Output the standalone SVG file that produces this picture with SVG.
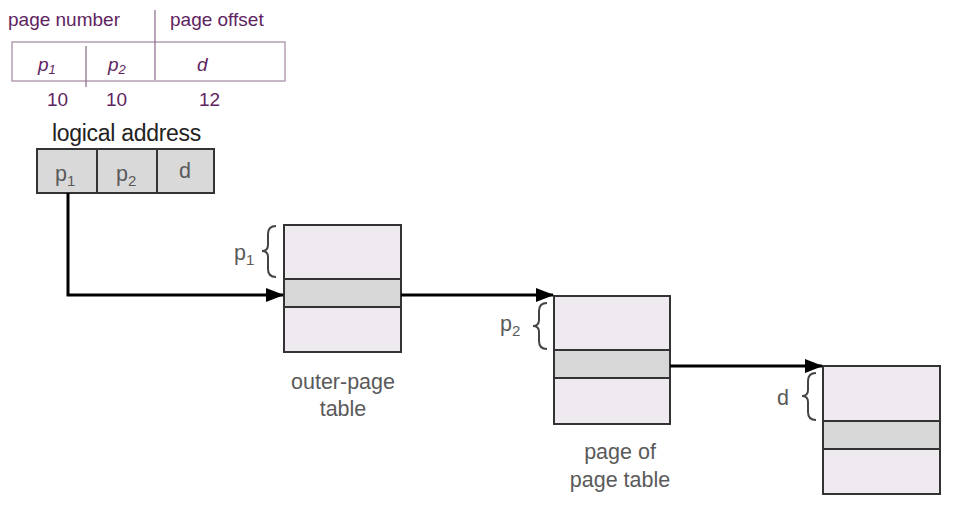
<svg xmlns="http://www.w3.org/2000/svg" width="955" height="505" viewBox="0 0 955 505">
<style>
.pur{font-family:"Liberation Sans",Arial,sans-serif;font-size:19px;fill:#5e2461}
.it{font-style:italic}
.lbl{font-family:"Liberation Sans",Arial,sans-serif;font-size:21.5px;fill:#5a5a5a}
.la{font-family:"Liberation Sans",Arial,sans-serif;font-size:23px;fill:#222;letter-spacing:-0.3px}
.cell{fill:#d9d9d9;stroke:#333;stroke-width:2}
.light{fill:#efeaf0;stroke:#333;stroke-width:2}
.mid{fill:#d7d7d7;stroke:#333;stroke-width:2}
.brace{fill:none;stroke:#444;stroke-width:2}
.conn{fill:none;stroke:#000;stroke-width:3}
</style>
<defs>
<marker id="ah" markerWidth="18" markerHeight="14" refX="17" refY="7" orient="auto" markerUnits="userSpaceOnUse">
<path d="M0,0 L18,7 L0,14 Z" fill="#000"/>
</marker>
</defs>
<rect width="955" height="505" fill="#fff"/>

<g id="format">
<rect x="12" y="42" width="273" height="39" fill="none" stroke="#a890a8" stroke-width="1.3"/>
<line x1="86" y1="46" x2="86" y2="87" stroke="#8a6a8a" stroke-width="1.2"/>
<line x1="155" y1="10" x2="155" y2="80" stroke="#8a6a8a" stroke-width="1.2"/>
<text class="pur" x="8" y="26">page number</text>
<text class="pur" x="170" y="26">page offset</text>
<text class="pur it" x="38" y="71">p<tspan font-size="13" dy="3">1</tspan></text>
<text class="pur it" x="108" y="71">p<tspan font-size="13" dy="3">2</tspan></text>
<text class="pur it" x="197" y="71">d</text>
<text class="pur" x="47" y="106">10</text>
<text class="pur" x="106" y="106">10</text>
<text class="pur" x="199" y="106">12</text>
</g>

<g id="logical-address">
<text class="la" x="52" y="141">logical address</text>
<rect class="cell" x="37" y="149" width="60" height="44"/>
<rect class="cell" x="97" y="149" width="60" height="44"/>
<rect class="cell" x="157" y="149" width="57" height="44"/>
<text class="lbl" x="55" y="181">p<tspan font-size="15" dy="5">1</tspan></text>
<text class="lbl" x="116" y="181">p<tspan font-size="15" dy="5">2</tspan></text>
<text class="lbl" x="179" y="178">d</text>
</g>

<g id="outer-page-table">
<rect class="light" x="284" y="225" width="117" height="54"/>
<rect class="mid" x="284" y="279" width="117" height="28"/>
<rect class="light" x="284" y="307" width="117" height="45"/>
<path class="brace" d="M276,226 Q268,226 268,234 L268,245 Q268,251 262,251 Q268,251 268,257 L268,269 Q268,277 276,277"/>
<text class="lbl" x="234" y="260">p<tspan font-size="15" dy="5">1</tspan></text>
<text class="lbl" x="343" y="389" text-anchor="middle">outer-page</text>
<text class="lbl" x="343" y="416" text-anchor="middle">table</text>
</g>

<g id="page-of-page-table">
<rect class="light" x="554" y="296" width="116" height="54"/>
<rect class="mid" x="554" y="350" width="116" height="28"/>
<rect class="light" x="554" y="378" width="116" height="46"/>
<path class="brace" d="M547,303 Q539,303 539,311 L539,320 Q539,326 533,326 Q539,326 539,332 L539,341 Q539,349 547,349"/>
<text class="lbl" x="500" y="331">p<tspan font-size="15" dy="5">2</tspan></text>
<text class="lbl" x="620" y="459" text-anchor="middle">page of</text>
<text class="lbl" x="620" y="487" text-anchor="middle">page table</text>
</g>

<g id="page">
<rect class="light" x="823" y="366" width="117" height="55"/>
<rect class="mid" x="823" y="421" width="117" height="28"/>
<rect class="light" x="823" y="449" width="117" height="45"/>
<path class="brace" d="M816,373 Q808,373 808,381 L808,390 Q808,396 802,396 Q808,396 808,402 L808,412 Q808,420 816,420"/>
<text class="lbl" x="777" y="405">d</text>
</g>

<g id="connectors">
<path class="conn" d="M68,193 L68,295 L283,295" marker-end="url(#ah)"/>
<path class="conn" d="M401,295 L553,295" marker-end="url(#ah)"/>
<path class="conn" d="M670,366 L822,366" marker-end="url(#ah)"/>
</g>
</svg>
